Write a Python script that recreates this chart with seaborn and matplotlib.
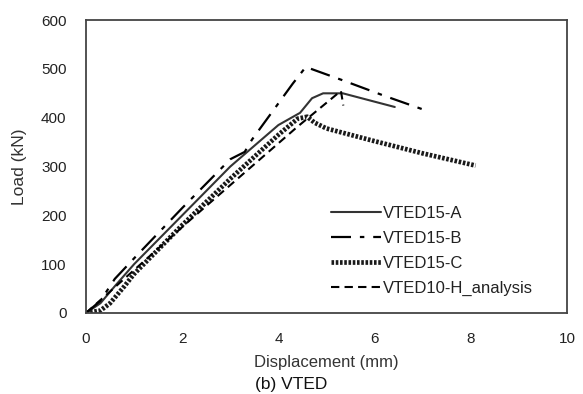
import matplotlib
matplotlib.use("Agg")
import matplotlib.pyplot as plt
import seaborn as sns

# Wartosci
a_disp = [0, 0.3, 0.6, 1.0, 2.0, 3.0, 4.0, 4.45, 4.7, 4.93, 5.34, 6.42]
a_load = [0, 20, 55, 100, 200, 300, 385, 410, 440, 450, 450, 422]

b_disp = [0, 0.3, 0.6, 1.0, 2.0, 3.0, 3.3, 3.45, 4.3, 4.57, 5.3, 6.2, 7.15]
b_load = [0, 25, 70, 112, 215, 315, 330, 355, 470, 504, 478, 445, 412]

c_disp = [0, 0.3, 0.5, 0.8, 1.0, 2.0, 3.0, 4.0, 4.4, 4.6, 4.75, 5.0, 6.0, 7.0, 8.1]
c_load = [0, 5, 20, 55, 80, 180, 275, 365, 398, 402, 390, 378, 352, 327, 302]

h_disp = [0, 1.0, 2.16, 3.0, 4.39, 5.3, 5.35]
h_load = [0, 88, 190, 262, 381, 455, 425]

x_ticks = [0, 2, 4, 6, 8, 10]
y_ticks = [0, 100, 200, 300, 400, 500, 600]

sns.set_style("white")
plt.rcParams['font.family'] = ['Liberation Sans', 'DejaVu Sans']

fig = plt.figure(figsize=(5.83, 3.94), dpi=100)
ax = fig.add_axes([0.1475, 0.2056, 0.825, 0.7434])

sns.lineplot(x=a_disp, y=a_load, ax=ax, sort=False, estimator=None, color="#333333",
             linewidth=1.5, label="VTED15-A")
sns.lineplot(x=b_disp, y=b_load, ax=ax, sort=False, estimator=None, color="black",
             linewidth=1.6, linestyle=(0, (9, 4, 2, 4)), label="VTED15-B")
sns.lineplot(x=c_disp, y=c_load, ax=ax, sort=False, estimator=None, color="#1a1a1a",
             linewidth=3.4, linestyle=(0, (0.55, 0.35)), label="VTED15-C")
sns.lineplot(x=h_disp, y=h_load, ax=ax, sort=False, estimator=None, color="black",
             linewidth=1.5, linestyle=(0, (4, 2.5)), label="VTED10-H_analysis")

ax.set_xlim(0, 10)
ax.set_ylim(0, 600)
ax.set_xticks(x_ticks)
ax.set_yticks(y_ticks)
ax.tick_params(direction="in", length=4, width=1, colors="#333333", labelsize=11,
               labelcolor="#222222")
ax.tick_params(axis="x", pad=14)
ax.tick_params(axis="y", pad=14)
for s in ax.spines.values():
    s.set_color("#444444")
    s.set_linewidth(1.3)

ax.set_xlabel("Displacement (mm)", fontsize=12, color="#333333", labelpad=6)
ax.set_ylabel("Load (kN)", fontsize=12.5, color="#333333", labelpad=10)
fig.text(0.5, 0.023, "(b) VTED", ha="center", va="center", fontsize=12.5, color="#111111")

leg = ax.legend(loc="lower right", bbox_to_anchor=(0.954, 0.018), frameon=False,
                handlelength=3.0, handletextpad=0.15, labelspacing=0.6, fontsize=12,
                borderaxespad=0.3)
for t in leg.get_texts():
    t.set_color("#222222")

plt.savefig("out.png", dpi=100)
